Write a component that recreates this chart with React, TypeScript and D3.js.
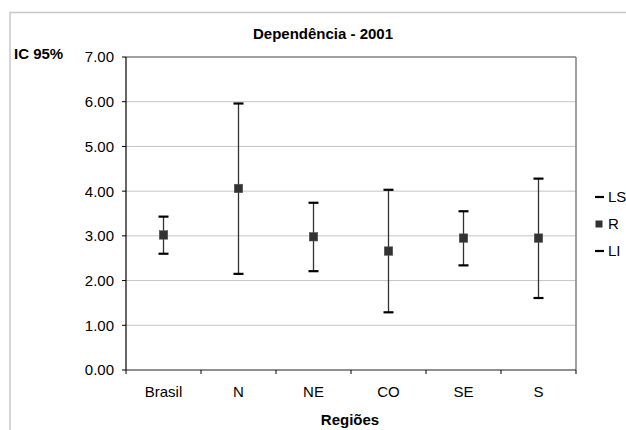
import React from "react";
import * as d3 from "d3";

const categories = ["Brasil", "N", "NE", "CO", "SE", "S"];
const seriesR = [3.02, 4.06, 2.98, 2.66, 2.95, 2.95];
const seriesLS = [3.43, 5.96, 3.74, 4.03, 3.55, 4.28];
const seriesLI = [2.6, 2.15, 2.21, 1.29, 2.34, 1.61];
const yTicks = [0, 1, 2, 3, 4, 5, 6, 7];
const legendItems = ["LS", "R", "LI"];

const W = 626;
const H = 430;
const plot = { left: 126, right: 576, top: 57, bottom: 370 };
const font = "'Liberation Sans', Arial, sans-serif";
const FS = 15;

export default function App() {
  const x = d3.scaleBand<string>().domain(categories).range([plot.left, plot.right]).padding(0);
  const y = d3.scaleLinear().domain([0, 7]).range([plot.bottom, plot.top]);
  const boundaries = d3.range(categories.length + 1).map((i) => plot.left + i * x.step());

  return (
    <svg width={W} height={H} style={{ position: "absolute", left: 0, top: 0 }} fontFamily={font}>
      <rect x={0} y={0} width={W} height={H} fill="#fff" />
      {/* chart frame */}
      <rect x={10} y={12.5} width={W + 20} height={H + 20} fill="none" stroke="#c8c8c8" strokeWidth={1.5} />
      {/* gridlines */}
      {yTicks.slice(1, -1).map((t) => (
        <line key={t} x1={plot.left} x2={plot.right} y1={y(t)} y2={y(t)} stroke="#c4c4c4" strokeWidth={1} />
      ))}
      {/* plot border top/right */}
      <line x1={plot.left} x2={plot.right} y1={plot.top} y2={plot.top} stroke="#808080" strokeWidth={1.5} />
      <line x1={plot.right} x2={plot.right} y1={plot.top} y2={plot.bottom} stroke="#808080" strokeWidth={1.5} />
      {/* axes */}
      <line x1={plot.left} x2={plot.left} y1={plot.top} y2={plot.bottom} stroke="#000" strokeWidth={1.2} />
      <line x1={plot.left} x2={plot.right} y1={plot.bottom} y2={plot.bottom} stroke="#222" strokeWidth={1.2} />
      {yTicks.map((t) => (
        <g key={t}>
          <line x1={plot.left - 4} x2={plot.left} y1={y(t)} y2={y(t)} stroke="#000" />
          <text x={plot.left - 12} y={y(t) + 5.4} textAnchor="end" fontSize={FS} fill="#000">
            {t.toFixed(2)}
          </text>
        </g>
      ))}
      {boundaries.map((b, i) => (
        <line key={i} x1={b} x2={b} y1={plot.bottom} y2={plot.bottom + 4} stroke="#000" />
      ))}
      {categories.map((c) => (
        <text key={c} x={x(c)! + x.bandwidth() / 2} y={397} textAnchor="middle" fontSize={FS} fill="#000">
          {c}
        </text>
      ))}
      {/* error bars */}
      {categories.map((c, i) => {
        const cx = x(c)! + x.bandwidth() / 2;
        return (
          <g key={c}>
            <line x1={cx} x2={cx} y1={y(seriesLS[i])} y2={y(seriesLI[i])} stroke="#333" strokeWidth={1.3} />
            <line x1={cx - 5} x2={cx + 5} y1={y(seriesLS[i])} y2={y(seriesLS[i])} stroke="#000" strokeWidth={2.2} />
            <line x1={cx - 5} x2={cx + 5} y1={y(seriesLI[i])} y2={y(seriesLI[i])} stroke="#000" strokeWidth={2.2} />
            <rect x={cx - 4.25} y={y(seriesR[i]) - 4.25} width={8.5} height={8.5} fill="#333" stroke="#555" strokeWidth={0.5} />
          </g>
        );
      })}
      {/* titles */}
      <text x={323} y={38.5} textAnchor="middle" fontSize={FS} fontWeight="bold" fill="#000">
        Dependência - 2001
      </text>
      <text x={14} y={59} fontSize={FS} fontWeight="bold" fill="#000">
        IC 95%
      </text>
      <text x={350} y={425} textAnchor="middle" fontSize={FS} fontWeight="bold" fill="#000">
        Regiões
      </text>
      {/* legend */}
      {legendItems.map((l, i) => {
        const ly = 197 + i * 27;
        return (
          <g key={l}>
            {l === "R" ? (
              <rect x={595.5} y={ly - 3.5} width={7} height={7} fill="#333" />
            ) : (
              <line x1={595} x2={604} y1={ly} y2={ly} stroke="#000" strokeWidth={2.2} />
            )}
            <text x={608} y={ly + 5.4} fontSize={FS} fill="#000">
              {l}
            </text>
          </g>
        );
      })}
    </svg>
  );
}
